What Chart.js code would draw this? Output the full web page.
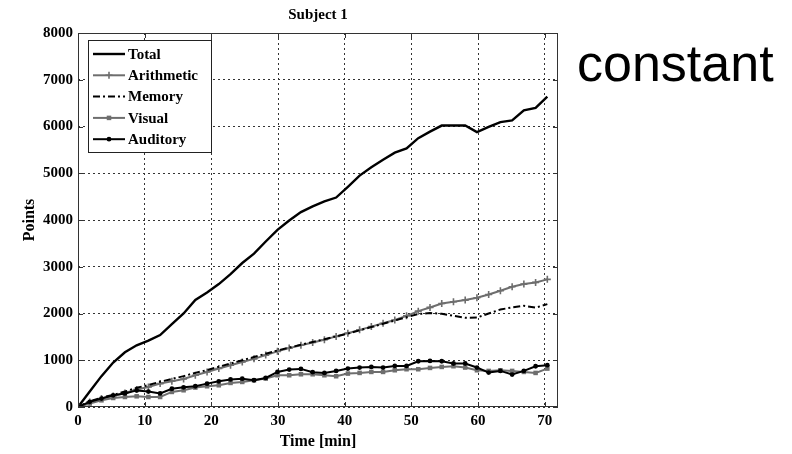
<!DOCTYPE html>
<html>
<head>
<meta charset="utf-8">
<script src="https://cdn.jsdelivr.net/npm/chart.js@4.4.1/dist/chart.umd.min.js"></script>
<style>
  html, body { margin: 0; padding: 0; background: #fff; }
  #wrap { position: relative; width: 792px; height: 454px; }
  #side { position: absolute; left: 577px; top: 33px; font-family: "Liberation Sans", Arial, sans-serif;
          font-size: 52px; line-height: 60px; color: #000; }
</style>
</head>
<body>
<div id="wrap">
  <canvas id="c" width="792" height="454"></canvas>
  <div id="side">constant</div>
</div>
<script>
// Sample times in minutes
const times = [0, 1.76, 3.52, 5.28, 7.04, 8.8, 10.56, 12.32, 14.08, 15.84, 17.6, 19.36, 21.12, 22.88,
  24.64, 26.4, 28.16, 29.92, 31.68, 33.44, 35.2, 36.96, 38.72, 40.48, 42.24, 44.0, 45.76, 47.52,
  49.28, 51.04, 52.8, 54.56, 56.32, 58.08, 59.84, 61.6, 63.36, 65.12, 66.88, 68.64, 70.4];

// Cumulative points per task type
const total = [0, 330, 660, 950, 1170, 1320, 1420, 1540, 1775, 2000, 2290, 2450, 2630, 2840,
  3080, 3280, 3540, 3790, 3990, 4170, 4290, 4400, 4480, 4710, 4950, 5130, 5290, 5440,
  5530, 5750, 5890, 6020, 6020, 6020, 5880, 5990, 6095, 6130, 6345, 6400, 6640];
const arithmetic = [0, 107, 180, 236, 300, 373, 429, 501, 551, 600, 679, 750, 822, 894,
  964, 1030, 1110, 1190, 1260, 1320, 1380, 1440, 1510, 1580, 1650, 1720, 1790, 1860,
  1950, 2050, 2130, 2215, 2250, 2287, 2336, 2408, 2486, 2572, 2629, 2665, 2730];
const memory = [0, 120, 200, 260, 330, 410, 470, 540, 600, 660, 730, 790, 860, 930,
  1000, 1070, 1140, 1210, 1270, 1330, 1390, 1450, 1510, 1570, 1640, 1710, 1780, 1850,
  1920, 1990, 2010, 1995, 1950, 1910, 1912, 2000, 2085, 2130, 2165, 2125, 2200];
const visual = [0, 75, 143, 193, 214, 229, 214, 214, 322, 358, 416, 444, 465, 515,
  536, 572, 608, 679, 679, 700, 700, 679, 658, 715, 729, 750, 750, 786,
  808, 808, 836, 857, 872, 844, 786, 772, 786, 772, 750, 729, 822];
const auditory = [0, 110, 180, 250, 290, 355, 330, 290, 390, 420, 444, 500, 550, 590,
  605, 572, 622, 750, 801, 815, 744, 729, 772, 822, 844, 857, 844, 879,
  879, 979, 986, 979, 930, 930, 844, 737, 772, 694, 772, 872, 894];

const xTicks = [0, 10, 20, 30, 40, 50, 60, 70];
const yTicks = [0, 1000, 2000, 3000, 4000, 5000, 6000, 7000, 8000];

const GRAY = '#6e6e6e';
const SERIF = '"Liberation Serif", "Times New Roman", serif';

const pts = arr => arr.map((v, i) => ({ x: times[i], y: v }));

const datasets = [
  { label: 'Total', data: pts(total), borderColor: '#000', borderWidth: 2.4,
    pointRadius: 0, order: 4 },
  { label: 'Arithmetic', data: pts(arithmetic), borderColor: GRAY, borderWidth: 2,
    pointStyle: 'cross', pointRadius: 3.5, pointBorderWidth: 1.6,
    pointBorderColor: GRAY, pointBackgroundColor: GRAY, order: 3 },
  { label: 'Memory', data: pts(memory), borderColor: '#000', borderWidth: 2,
    borderDash: [7, 3, 2, 3], pointRadius: 0, order: 2 },
  { label: 'Visual', data: pts(visual), borderColor: GRAY, borderWidth: 2,
    pointStyle: 'rect', pointRadius: 3.2, pointBorderWidth: 0,
    pointBorderColor: GRAY, pointBackgroundColor: GRAY, order: 1 },
  { label: 'Auditory', data: pts(auditory), borderColor: '#000', borderWidth: 2,
    pointStyle: 'circle', pointRadius: 2.4, pointBorderWidth: 0,
    pointBorderColor: '#000', pointBackgroundColor: '#000', order: 0 }
];

// Frame, inward ticks and the title
const framePlugin = {
  id: 'frame',
  afterDraw(chart) {
    const { ctx, chartArea: a, scales: { x, y } } = chart;
    ctx.save();
    ctx.strokeStyle = '#333';
    ctx.lineWidth = 1;
    ctx.strokeRect(a.left + 0.5, a.top + 0.5, a.right - a.left - 1, a.bottom - a.top - 1);
    ctx.beginPath();
    const tl = 5;
    xTicks.forEach(v => {
      const px = Math.round(x.getPixelForValue(v)) + 0.5;
      ctx.moveTo(px, a.bottom); ctx.lineTo(px, a.bottom - tl);
      ctx.moveTo(px, a.top); ctx.lineTo(px, a.top + tl);
    });
    yTicks.forEach(v => {
      const py = Math.round(y.getPixelForValue(v)) + 0.5;
      ctx.moveTo(a.left, py); ctx.lineTo(a.left + tl, py);
      ctx.moveTo(a.right, py); ctx.lineTo(a.right - tl, py);
    });
    ctx.stroke();
    ctx.fillStyle = '#000';
    ctx.font = 'bold 15px ' + SERIF;
    ctx.textAlign = 'center';
    ctx.textBaseline = 'middle';
    ctx.fillText('Subject 1', (a.left + a.right) / 2, 15);
    ctx.restore();
  }
};

// Boxed legend inside the upper-left corner of the plot
const boxLegend = {
  id: 'boxLegend',
  afterDraw(chart) {
    const { ctx, chartArea: a } = chart;
    const left = a.left + 10, top = a.top + 7, w = 123, rowH = 21.3;
    const h = 112;
    ctx.save();
    ctx.fillStyle = '#fff';
    ctx.fillRect(left, top, w, h);
    ctx.strokeStyle = '#222';
    ctx.lineWidth = 1;
    ctx.strokeRect(left + 0.5, top + 0.5, w, h);
    chart.data.datasets.forEach((ds, i) => {
      const cy = top + 14 + i * rowH;
      const x0 = left + 5, x1 = left + 37;
      ctx.save();
      ctx.strokeStyle = ds.borderColor;
      ctx.lineWidth = ds.borderWidth;
      ctx.setLineDash(ds.borderDash || []);
      ctx.beginPath();
      ctx.moveTo(x0, cy); ctx.lineTo(x1, cy);
      ctx.stroke();
      ctx.restore();
      if (ds.pointRadius > 0) {
        ctx.save();
        ctx.strokeStyle = ds.pointBorderColor;
        ctx.fillStyle = ds.pointBackgroundColor;
        ctx.lineWidth = ds.pointBorderWidth;
        Chart.helpers.drawPoint(ctx, { pointStyle: ds.pointStyle, radius: ds.pointRadius,
          borderWidth: ds.pointBorderWidth, rotation: 0 }, (x0 + x1) / 2, cy);
        ctx.restore();
      }
      ctx.fillStyle = '#000';
      ctx.font = 'bold 15px ' + SERIF;
      ctx.textAlign = 'left';
      ctx.textBaseline = 'middle';
      ctx.fillText(ds.label, x1 + 3, cy + 1);
    });
    ctx.restore();
  }
};

new Chart(document.getElementById('c'), {
  type: 'line',
  data: { datasets },
  options: {
    responsive: false,
    animation: false,
    layout: { padding: { top: 33, right: 234, left: 0, bottom: 0 } },
    plugins: { legend: { display: false }, tooltip: { enabled: false }, title: { display: false } },
    elements: { line: { tension: 0 } },
    scales: {
      x: {
        type: 'linear', min: 0, max: 72,
        afterBuildTicks: s => { s.ticks = xTicks.map(v => ({ value: v })); },
        afterFit: s => { s.height = 47; },
        grid: { color: '#333', lineWidth: 1, drawTicks: false },
        border: { display: false, dash: [2, 3] },
        ticks: { color: '#000', padding: 5, maxRotation: 0,
                 callback: v => String(v),
                 font: { family: SERIF, size: 15, weight: 'bold' } },
        title: { display: true, text: 'Time [min]', color: '#000',
                 padding: { top: 0, bottom: 3 },
                 font: { family: SERIF, size: 16, weight: 'bold' } }
      },
      y: {
        type: 'linear', min: 0, max: 8000,
        afterBuildTicks: s => { s.ticks = yTicks.map(v => ({ value: v })); },
        afterFit: s => { s.width = 78; },
        grid: { color: '#333', lineWidth: 1, drawTicks: false },
        border: { display: false, dash: [2, 3] },
        ticks: { color: '#000', padding: 5,
                 callback: v => String(v),
                 font: { family: SERIF, size: 15, weight: 'bold' } },
        title: { display: true, text: 'Points', color: '#000',
                 padding: { top: 20, bottom: 0 },
                 font: { family: SERIF, size: 16, weight: 'bold' } }
      }
    }
  },
  plugins: [framePlugin, boxLegend]
});
</script>
</body>
</html>
